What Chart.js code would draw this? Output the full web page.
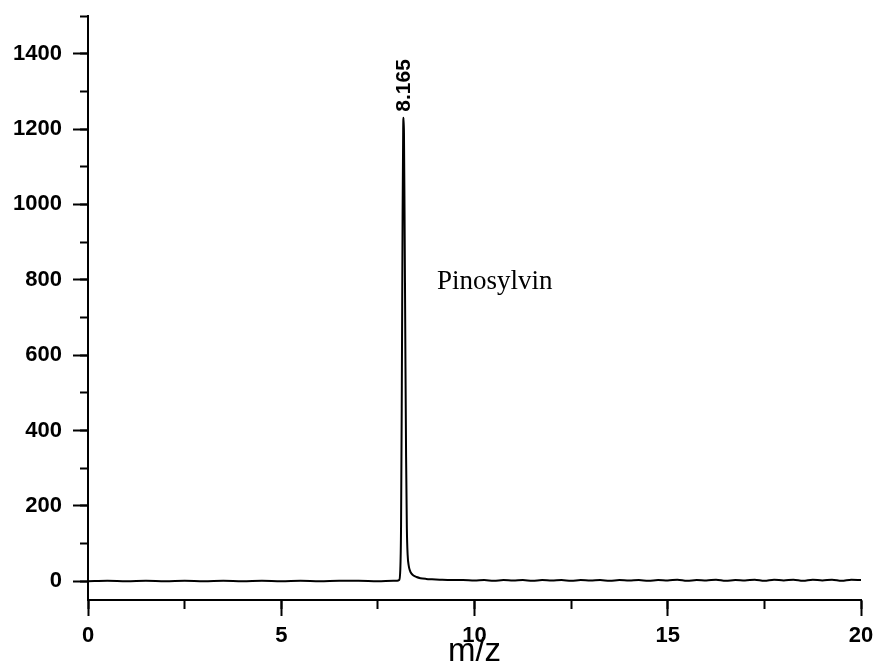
<!DOCTYPE html>
<html>
<head>
<meta charset="utf-8">
<script src="https://cdn.jsdelivr.net/npm/chart.js@4.4.1/dist/chart.umd.min.js"></script>
<style>
  html, body { margin: 0; padding: 0; background: #fff; }
  canvas { display: block; }
</style>
</head>
<body>
<canvas id="chromChart" width="877" height="671"></canvas>
<script>
const mzValues = [
  0, 0.5, 1, 1.5, 2, 2.5, 3, 3.5, 4, 4.5, 5, 5.5, 6, 6.5, 7, 7.5, 7.9,
  8.0, 8.05, 8.08, 8.10, 8.12, 8.14, 8.155, 8.165, 8.175, 8.19, 8.21, 8.23, 8.25, 8.27,
  8.30, 8.33, 8.37, 8.42, 8.50, 8.60, 8.75, 8.90, 9.10, 9.40, 9.70,
  10, 10.25, 10.5, 10.75, 11, 11.25, 11.5, 11.75, 12, 12.25, 12.5, 12.75,
  13, 13.25, 13.5, 13.75, 14, 14.25, 14.5, 14.75, 15, 15.25, 15.5, 15.75,
  16, 16.25, 16.5, 16.75, 17, 17.25, 17.5, 17.75, 18, 18.25, 18.5, 18.75,
  19, 19.25, 19.5, 19.75, 20
];
const intensity = [
  0, 1, 0, 1, 0, 1, 0, 1, 0, 1, 0, 1, 0, 1, 1, 0, 1,
  1, 3, 30, 150, 520, 980, 1200, 1230, 1190, 980, 640, 330, 140, 70,
  40, 28, 20, 15, 11, 8, 6, 5, 4, 3, 3,
  2, 3, 1, 3, 2, 3, 1, 3, 2, 3, 1, 3,
  2, 3, 1, 3, 2, 3, 1, 3, 2, 4, 1, 3,
  2, 4, 1, 3, 2, 4, 1, 4, 2, 4, 1, 4,
  2, 4, 1, 4, 3
];

const xTicksMajor = 5;
const xTicksMinor = 2.5;
const yTicksMajor = 200;
const yTicksMinor = 100;

const peakLabel = { mz: 8.165, value: 1230, text: '8.165' };
const compoundLabel = { mz: 9.03, value: 775, text: 'Pinosylvin' };

/* ─── Estilo general ─────────────────────────────── */
Chart.defaults.color = '#000';
Chart.defaults.font.family = "'Liberation Sans', Arial, sans-serif";

const tickFont = { family: "'Liberation Sans', Arial, sans-serif", size: 22, weight: 'bold' };
const plainNumber = v => String(v);

/* Etiquetas dentro del gráfico */
const annotations = {
  id: 'annotations',
  afterDatasetsDraw(chart) {
    const { ctx, scales } = chart;
    const x = scales.x, y = scales.y;

    ctx.save();
    ctx.fillStyle = '#000';
    ctx.font = "bold 21px 'Liberation Sans', Arial, sans-serif";
    ctx.translate(x.getPixelForValue(peakLabel.mz) + 1, y.getPixelForValue(peakLabel.value) - 6);
    ctx.rotate(-Math.PI / 2);
    ctx.textAlign = 'left';
    ctx.textBaseline = 'middle';
    ctx.fillText(peakLabel.text, 0, 0);
    ctx.restore();

    ctx.save();
    ctx.fillStyle = '#000';
    ctx.font = "27px 'Liberation Serif', 'Times New Roman', serif";
    ctx.textAlign = 'left';
    ctx.textBaseline = 'alphabetic';
    ctx.fillText(compoundLabel.text, x.getPixelForValue(compoundLabel.mz), y.getPixelForValue(compoundLabel.value));
    ctx.restore();
  },
};

new Chart(document.getElementById('chromChart'), {
  type: 'line',
  data: {
    datasets: [{
      label: 'Pinosylvin',
      data: mzValues.map((m, i) => ({ x: m, y: intensity[i] })),
      borderColor: '#000',
      borderWidth: 2,
      borderJoinStyle: 'round',
      cubicInterpolationMode: 'monotone',
      pointRadius: 0,
      fill: false,
    }],
  },
  options: {
    responsive: false,
    animation: false,
    layout: { padding: { top: 16, right: 16, bottom: 0, left: 0 } },
    plugins: {
      legend: { display: false },
      tooltip: { enabled: false },
    },
    scales: {
      x: {
        type: 'linear',
        position: 'bottom',
        weight: 1,
        min: 0,
        max: 20,
        ticks: { stepSize: xTicksMajor, font: tickFont, color: '#000', padding: 7, maxRotation: 0, callback: plainNumber },
        grid: { drawOnChartArea: false, drawTicks: true, tickLength: 16, tickWidth: 2, tickColor: '#000' },
        border: { color: '#000', width: 2 },
        title: {
          display: true,
          text: 'm/z',
          color: '#000',
          font: { family: "'Liberation Sans', Arial, sans-serif", size: 33, lineHeight: 1 },
          padding: { top: 0, bottom: 3 },
        },
        afterFit: s => { s.height = 71; s.paddingLeft = 0; s.paddingRight = 0; },
      },
      xMinor: {
        type: 'linear',
        position: 'bottom',
        weight: 0,
        min: 0,
        max: 20,
        ticks: { stepSize: xTicksMinor, display: false },
        grid: { drawOnChartArea: false, drawTicks: true, tickLength: 9, tickWidth: 2, tickColor: '#000' },
        border: { display: false },
        afterFit: s => { s.height = 0; },
      },
      y: {
        type: 'linear',
        position: 'left',
        weight: 1,
        min: -50,
        max: 1500,
        ticks: { stepSize: yTicksMajor, includeBounds: false, font: tickFont, color: '#000', padding: 11, callback: plainNumber },
        grid: { drawOnChartArea: false, drawTicks: true, tickLength: 15, tickWidth: 2, tickColor: '#000' },
        border: { color: '#000', width: 2 },
        afterFit: s => { s.width = 88; s.paddingTop = 0; s.paddingBottom = 0; },
      },
      yMinor: {
        type: 'linear',
        position: 'left',
        weight: 0,
        min: -50,
        max: 1500,
        ticks: { stepSize: yTicksMinor, includeBounds: false, display: false },
        grid: { drawOnChartArea: false, drawTicks: true, tickLength: 8, tickWidth: 2, tickColor: '#000' },
        border: { display: false },
        afterFit: s => { s.width = 0; },
      },
    },
  },
  plugins: [annotations],
});
</script>
</body>
</html>
